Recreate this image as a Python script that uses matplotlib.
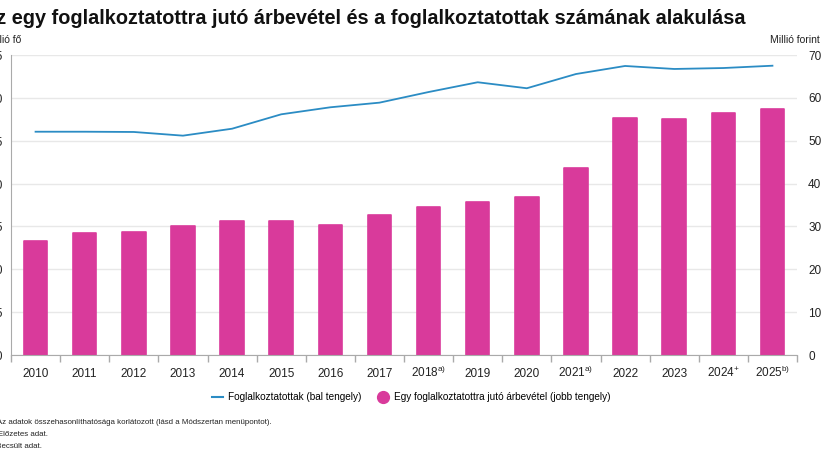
import numpy as np
import matplotlib
matplotlib.use("Agg")
from matplotlib import pyplot as plt
from matplotlib.lines import Line2D

plt.rcParams['font.family'] = ['Liberation Sans', 'DejaVu Sans']
plt.rcParams['mathtext.fontset'] = 'custom'
plt.rcParams['mathtext.rm'] = 'Liberation Sans'

years = ['2010', '2011', '2012', '2013', '2014', '2015', '2016', '2017',
         r'2018$^{\mathrm{a)}}$', '2019', '2020', r'2021$^{\mathrm{a)}}$',
         '2022', '2023', r'2024$^{\mathrm{+}}$', r'2025$^{\mathrm{b)}}$']
# Foglalkoztatottak, millió fő (bal tengely)
employed = [2.605, 2.605, 2.602, 2.559, 2.640, 2.808, 2.890, 2.944,
            3.068, 3.182, 3.112, 3.278, 3.372, 3.337, 3.348, 3.375]
# Egy foglalkoztatottra jutó árbevétel, millió forint (jobb tengely)
revenue = [26.5, 28.5, 28.6, 30.1, 31.2, 31.2, 30.4, 32.7,
           34.5, 35.6, 36.8, 43.6, 55.2, 55.1, 56.5, 57.4]
right_ticks = [0, 10, 20, 30, 40, 50, 60, 70]
left_ticks = [0, 0.5, 1.0, 1.5, 2.0, 2.5, 3.0, 3.5]

bar_color = '#D93A9B'
line_color = '#2B8CC4'
grid_color = '#E8E8E8'
W, H = 825, 450

fig = plt.figure(figsize=(8.25, 4.5), dpi=100)
fig.set_facecolor('white')
axL = fig.add_axes([11 / W, 1 - 355 / H, (797 - 11) / W, 300 / H])
axR = axL.twinx()
x = np.arange(len(years))

# bars on right axis, drawn behind the line
axR.bar(x, revenue, width=0.48, color=bar_color, edgecolor=bar_color,
        linewidth=1.2, joinstyle='round', zorder=2)
axR.set_ylim(0, 70)
axR.set_yticks(right_ticks)
axR.tick_params(axis='y', length=0, labelsize=8.5, pad=8, colors='#222222')
axR.grid(axis='y', color=grid_color, linewidth=1, zorder=0)

axL.plot(x, employed, color=line_color, linewidth=1.3, zorder=5)
axL.set_ylim(0, 3.5)
axL.set_yticks(left_ticks)
axL.set_yticklabels([f'{t:.1f}'.replace('.', ',') for t in left_ticks])
axL.tick_params(axis='y', length=0, labelsize=8.5, pad=6, colors='#222222')
axL.set_zorder(axR.get_zorder() + 1)
axL.patch.set_visible(False)

axL.set_xlim(-0.5, len(years) - 0.5)
axL.set_xticks(x)
axL.set_xticklabels(years)
axL.set_xticks(np.arange(-0.5, len(years)), minor=True)
axL.tick_params(axis='x', which='major', length=0, labelsize=8.5, pad=15.5, colors='#222222')
axL.tick_params(axis='x', which='minor', length=5, color='#AAAAAA', width=1)
# align year labels on their baseline so the superscripts do not push them down
for lab in axL.get_xticklabels():
    lab.set_verticalalignment('baseline')

for ax in (axL, axR):
    for s in ('top', 'right', 'left', 'bottom'):
        ax.spines[s].set_visible(False)
axL.spines['left'].set_visible(True)
axL.spines['left'].set_color('#AAAAAA')
axL.spines['bottom'].set_visible(True)
axL.spines['bottom'].set_color('#AAAAAA')

fig.text(745 / W, 1 - 18 / H,
         'Az egy foglalkoztatottra jutó árbevétel és a foglalkoztatottak számának alakulása',
         ha='right', va='center', fontsize=14.3, fontweight='bold', color='#111111')
fig.text(21 / W, 1 - 40 / H, 'Millió fő', ha='right', va='center', fontsize=7.5, color='#222222')
fig.text(820 / W, 1 - 40 / H, 'Millió forint', ha='right', va='center', fontsize=7.5, color='#222222')

handles = [Line2D([], [], color=line_color, linewidth=1.5),
           Line2D([], [], color=bar_color, marker='o', linestyle='none', markersize=8.5)]
fig.legend(handles, ['Foglalkoztatottak (bal tengely)',
                     'Egy foglalkoztatottra jutó árbevétel (jobb tengely)'],
           loc='center', bbox_to_anchor=(411 / W, 1 - 397 / H), ncol=2, frameon=False,
           fontsize=7.2, handlelength=1.1, handletextpad=0.5, columnspacing=1.7)

notes = ['a) Az adatok összehasonlíthatósága korlátozott (lásd a Módszertan menüpontot).',
         '+ Előzetes adat.',
         'b) Becsült adat.']
note_ends = [272, 48, 42]
for i, (n, e) in enumerate(zip(notes, note_ends)):
    fig.text(e / W, 1 - (422 + 12 * i) / H, n, ha='right', va='center',
             fontsize=5.7, color='#222222')

fig.savefig('out.png', dpi=100, facecolor='white')
